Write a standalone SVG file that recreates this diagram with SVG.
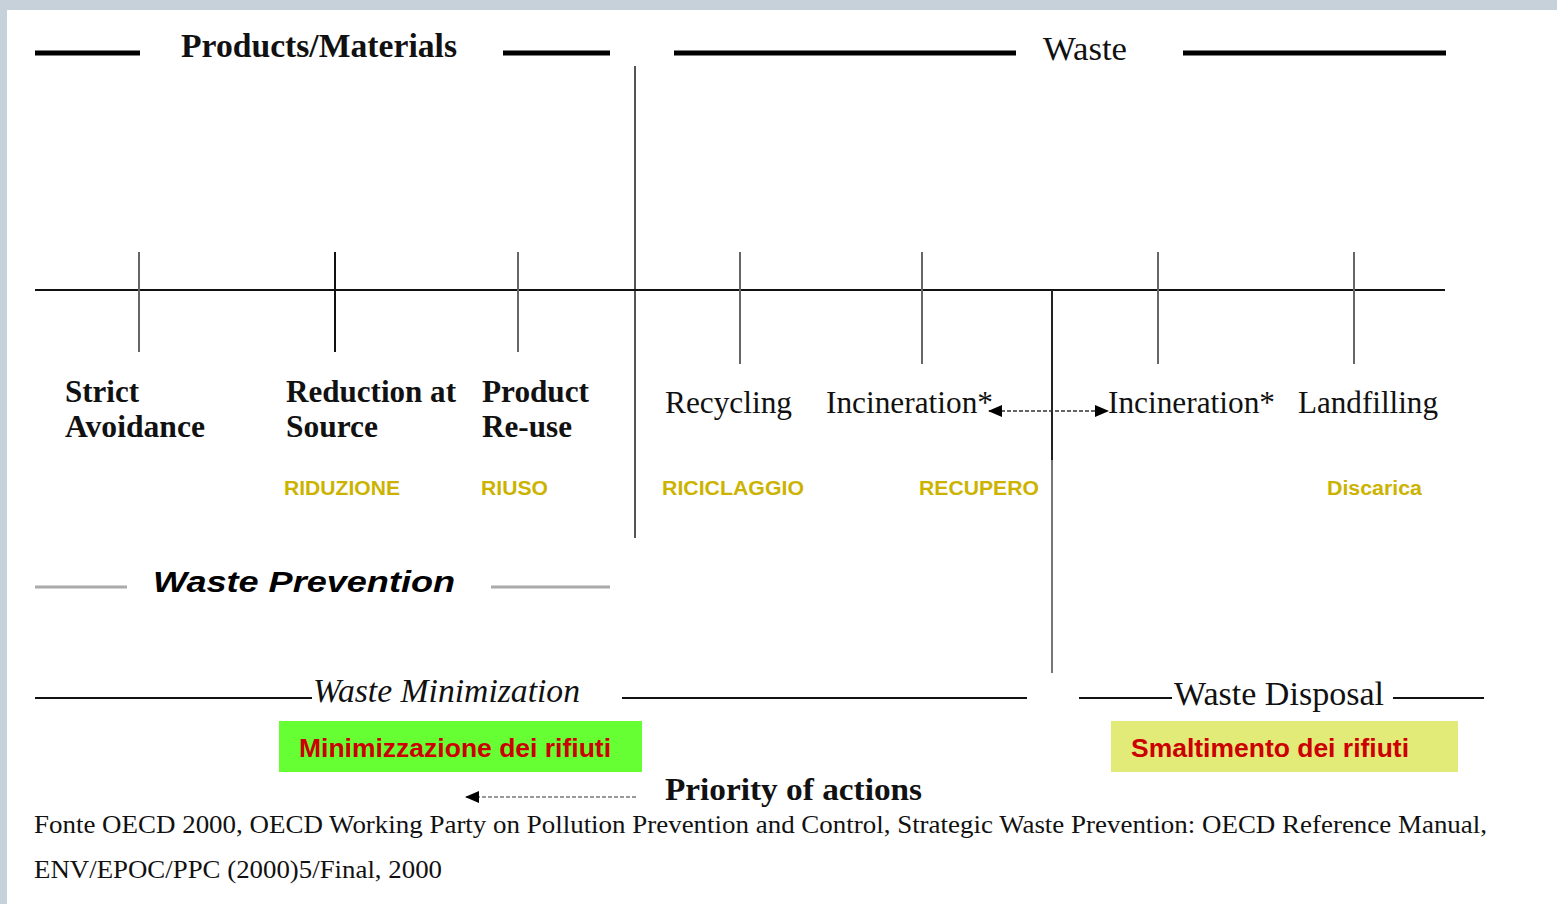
<svg xmlns="http://www.w3.org/2000/svg" width="1557" height="904" viewBox="0 0 1557 904">
<style>
.serif{font-family:"Liberation Serif","Times New Roman",serif;fill:#111}
.bold{font-weight:bold}
.ita{font-style:italic}
.lbl{font-size:31px}
.it{font-family:"Liberation Sans",Arial,sans-serif;font-weight:bold;font-size:20px;fill:#ccb300}
.box{font-family:"Liberation Sans",Arial,sans-serif;font-weight:bold;font-size:26px;fill:#cc0000}
.thick{stroke:#000;stroke-width:5}
.thin{stroke:#111;stroke-width:2}
.tick{stroke:#666;stroke-width:2}
.grey{stroke:#aaa;stroke-width:3}
</style>
<defs>
<marker id="ah" viewBox="0 0 14 12" refX="13" refY="6" markerWidth="14" markerHeight="12" markerUnits="userSpaceOnUse" orient="auto-start-reverse">
<path d="M0,0 L14,6 L0,12 z" fill="#000"/>
</marker>
</defs>
<rect x="0" y="0" width="1557" height="904" fill="#fff"/>
<rect x="0" y="0" width="1557" height="10" fill="#c6d1d9"/>
<rect x="0" y="0" width="7" height="904" fill="#c6d1d9"/>

<g id="headers">
<line class="thick" x1="35" y1="53" x2="140" y2="53"/>
<line class="thick" x1="503" y1="53" x2="610" y2="53"/>
<text class="serif bold" x="181" y="57" font-size="33" textLength="276" lengthAdjust="spacingAndGlyphs">Products/Materials</text>
<line class="thick" x1="674" y1="53" x2="1016" y2="53"/>
<line class="thick" x1="1183" y1="53" x2="1446" y2="53"/>
<text class="serif" x="1043" y="60" font-size="33" textLength="84" lengthAdjust="spacingAndGlyphs">Waste</text>
</g>

<g id="connectors">
<line x1="635" y1="66" x2="635" y2="538" stroke="#555" stroke-width="2"/>
<line class="thin" x1="35" y1="290" x2="1445" y2="290"/>
<line x1="1052" y1="290" x2="1052" y2="460" stroke="#222" stroke-width="2"/>
<line x1="1052" y1="460" x2="1052" y2="673" stroke="#777" stroke-width="2"/>
<line class="tick" x1="139" y1="252" x2="139" y2="352"/>
<line x1="335" y1="252" x2="335" y2="352" stroke="#111" stroke-width="2"/>
<line class="tick" x1="518" y1="252" x2="518" y2="352"/>
<line class="tick" x1="740" y1="252" x2="740" y2="364"/>
<line class="tick" x1="922" y1="252" x2="922" y2="364"/>
<line class="tick" x1="1158" y1="252" x2="1158" y2="364"/>
<line class="tick" x1="1354" y1="252" x2="1354" y2="364"/>
<line x1="989" y1="411" x2="1108" y2="411" stroke="#333" stroke-width="1.5" stroke-dasharray="4,2" marker-start="url(#ah)" marker-end="url(#ah)"/>
<line x1="636" y1="797" x2="466" y2="797" stroke="#999" stroke-width="2" stroke-dasharray="4,2" marker-end="url(#ah)"/>
</g>

<g id="node-strict">
<text class="serif bold lbl" x="65" y="402" textLength="74" lengthAdjust="spacingAndGlyphs">Strict</text>
<text class="serif bold lbl" x="65" y="437" textLength="140" lengthAdjust="spacingAndGlyphs">Avoidance</text>
</g>
<g id="node-reduction">
<text class="serif bold lbl" x="286" y="402" textLength="170" lengthAdjust="spacingAndGlyphs">Reduction at</text>
<text class="serif bold lbl" x="286" y="437" textLength="92" lengthAdjust="spacingAndGlyphs">Source</text>
<text class="it" x="284" y="495" textLength="116" lengthAdjust="spacingAndGlyphs">RIDUZIONE</text>
</g>
<g id="node-reuse">
<text class="serif bold lbl" x="482" y="402" textLength="107" lengthAdjust="spacingAndGlyphs">Product</text>
<text class="serif bold lbl" x="482" y="437" textLength="90" lengthAdjust="spacingAndGlyphs">Re-use</text>
<text class="it" x="481" y="495" textLength="67" lengthAdjust="spacingAndGlyphs">RIUSO</text>
</g>
<g id="node-recycling">
<text class="serif lbl" x="665" y="413" textLength="127" lengthAdjust="spacingAndGlyphs">Recycling</text>
<text class="it" x="662" y="495" textLength="142" lengthAdjust="spacingAndGlyphs">RICICLAGGIO</text>
</g>
<g id="node-incineration1">
<text class="serif lbl" x="826" y="413" textLength="167" lengthAdjust="spacingAndGlyphs">Incineration*</text>
<text class="it" x="919" y="495" textLength="120" lengthAdjust="spacingAndGlyphs">RECUPERO</text>
</g>
<g id="node-incineration2">
<text class="serif lbl" x="1108" y="413" textLength="167" lengthAdjust="spacingAndGlyphs">Incineration*</text>
</g>
<g id="node-landfilling">
<text class="serif lbl" x="1298" y="413" textLength="140" lengthAdjust="spacingAndGlyphs">Landfilling</text>
<text class="it" x="1327" y="495" textLength="95" lengthAdjust="spacingAndGlyphs">Discarica</text>
</g>

<g id="waste-prevention">
<line class="grey" x1="35" y1="587" x2="127" y2="587"/>
<line class="grey" x1="491" y1="587" x2="610" y2="587"/>
<text x="153" y="592" font-family="'Liberation Sans',Arial,sans-serif" font-weight="bold" font-style="italic" font-size="29" fill="#000" textLength="302" lengthAdjust="spacingAndGlyphs">Waste Prevention</text>
</g>

<g id="waste-minimization">
<line class="thin" x1="35" y1="698" x2="312" y2="698"/>
<line class="thin" x1="622" y1="698" x2="1027" y2="698"/>
<text class="serif ita" x="313" y="702" font-size="33" textLength="267" lengthAdjust="spacingAndGlyphs">Waste Minimization</text>
<rect x="279" y="721" width="363" height="51" fill="#66ff33"/>
<text class="box" x="299" y="757" textLength="312" lengthAdjust="spacingAndGlyphs">Minimizzazione dei rifiuti</text>
</g>

<g id="waste-disposal">
<line class="thin" x1="1079" y1="698" x2="1172" y2="698"/>
<line class="thin" x1="1393" y1="698" x2="1484" y2="698"/>
<text class="serif" x="1174" y="705" font-size="33" textLength="210" lengthAdjust="spacingAndGlyphs">Waste Disposal</text>
<rect x="1111" y="721" width="347" height="51" fill="#e2ea78"/>
<text class="box" x="1131" y="757" textLength="278" lengthAdjust="spacingAndGlyphs">Smaltimento dei rifiuti</text>
</g>

<g id="priority">
<text class="serif bold" x="665" y="800" font-size="31" textLength="257" lengthAdjust="spacingAndGlyphs">Priority of actions</text>
</g>

<g id="source">
<text class="serif" x="34" y="833" font-size="26" textLength="1453" lengthAdjust="spacingAndGlyphs">Fonte OECD 2000, OECD Working Party on Pollution Prevention and Control, Strategic Waste Prevention: OECD Reference Manual,</text>
<text class="serif" x="34" y="878" font-size="26" textLength="408" lengthAdjust="spacingAndGlyphs">ENV/EPOC/PPC (2000)5/Final, 2000</text>
</g>
</svg>
